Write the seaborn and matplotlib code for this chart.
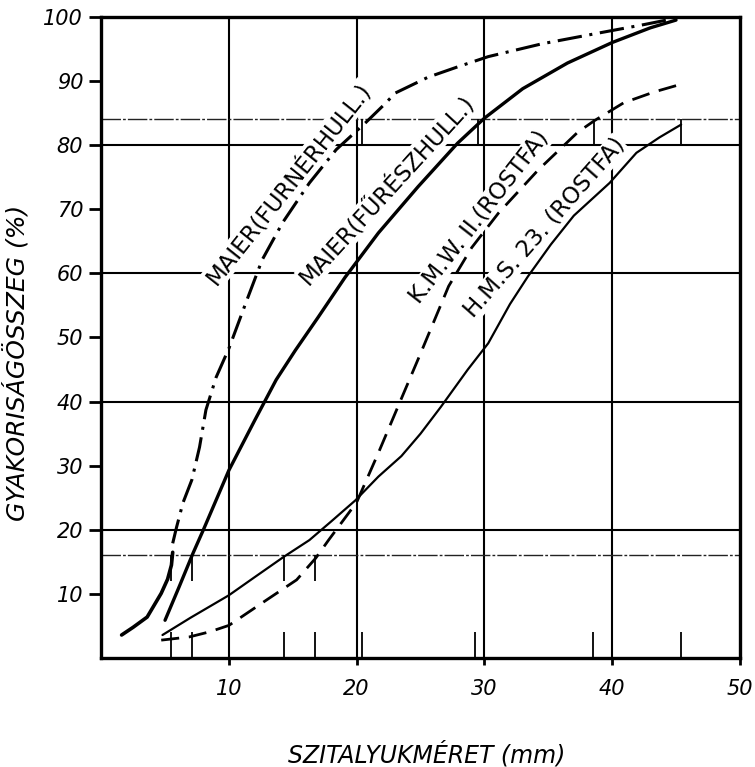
import matplotlib
matplotlib.use("Agg")
import matplotlib.pyplot as plt
import seaborn as sns
import pandas as pd

sns.set_theme(style="white")
plt.rcParams['font.family'] = ['DejaVu Sans']
plt.rcParams['text.color'] = 'black'
plt.rcParams['axes.labelcolor'] = 'black'
plt.rcParams['xtick.color'] = 'black'
plt.rcParams['ytick.color'] = 'black'

# --- data ---
furner_solid_x = [1.6, 2.5, 3.6, 4.7, 5.2, 5.5, 5.6]
furner_solid_y = [3.6, 4.8, 6.4, 10.1, 12.3, 14.5, 16.5]
furner_x = [5.6, 5.9, 6.4, 7.1, 7.7, 8.2, 9.0, 10.0, 11.4, 12.6, 14.2, 16.3, 18.4, 20.7,
            22.3, 23.0, 25.6, 27.9, 30.3, 34.5, 39.0, 42.5, 44.5]
furner_y = [17.9, 20.4, 24.2, 27.8, 32.9, 38.7, 43.8, 48.3, 55.8, 62.1, 67.9, 74.1, 79.3, 83.5,
            86.6, 88.1, 90.6, 92.2, 93.8, 95.8, 97.5, 98.8, 99.6]

fureszx = [5.0, 6.1, 7.2, 8.0, 10.0, 12.0, 13.7, 15.2, 17.0, 19.1, 21.7, 24.8, 27.9, 30.0,
           33.0, 36.5, 40.0, 43.0, 45.0]
fureszy = [5.9, 11.1, 16.4, 20.0, 29.3, 37.0, 43.4, 48.0, 53.2, 59.4, 66.3, 73.5, 80.3, 84.2,
           88.8, 92.8, 96.0, 98.3, 99.5]

kmw_x = [4.7, 6.9, 8.5, 10.0, 12.9, 15.3, 16.8, 17.8, 20.0, 21.7, 23.4, 25.0, 27.2, 29.0,
         31.1, 34.2, 37.3, 38.6, 40.9, 43.3, 45.4]
kmw_y = [2.8, 3.3, 4.1, 5.1, 9.0, 12.2, 15.6, 18.4, 24.3, 32.0, 40.0, 47.5, 58.0, 64.0,
         69.4, 76.1, 82.0, 83.8, 86.6, 88.3, 89.5]

hms_x = [4.8, 7.0, 10.0, 12.0, 14.3, 16.3, 18.0, 19.9, 21.7, 23.5, 25.0, 26.6, 28.7, 30.3,
         32.0, 33.4, 35.2, 37.0, 39.8, 41.9, 43.7, 45.4]
hms_y = [3.6, 6.3, 9.8, 12.6, 15.8, 18.4, 21.3, 24.6, 28.3, 31.5, 35.0, 39.2, 45.0, 49.1,
         55.2, 59.5, 64.5, 69.0, 74.1, 78.8, 81.2, 83.2]

cross16 = [5.5, 7.1, 14.3, 16.7]
cross84 = [20.4, 29.5, 38.6, 45.4]
bottom_marks = [5.5, 7.1, 14.3, 16.7, 20.4, 29.3, 38.5, 45.4]

labels = ["MAIER(FURNÉRHULL.)", "MAIER(FŰRÉSZHULL.)", "K.M.W. II.(ROSTFA)", "H.M.S. 23. (ROSTFA)"]
label_x = [14.7, 22.4, 29.6, 34.7]
label_y = [74.0, 73.0, 68.8, 67.1]
label_rot = [51.5, 47.5, 52.0, 48.6]

xticks = [10, 20, 30, 40, 50]
yticks = [10, 20, 30, 40, 50, 60, 70, 80, 90, 100]

fig = plt.figure(figsize=(7.55, 7.67), dpi=100)
ax = fig.add_axes([0.134, 0.142, 0.846, 0.836])
ax.set_xlim(0, 50)
ax.set_ylim(0, 100)

# grid
for gx in [10, 20, 30, 40]:
    ax.axvline(gx, color="black", lw=1.5, zorder=1)
for gy in [20, 40, 60, 80]:
    ax.axhline(gy, color="black", lw=1.5, zorder=1)
for gy in [16, 84]:
    ax.axhline(gy, color="#222222", lw=1.0, ls=(0, (14, 1.5, 2, 1.5)), zorder=1)

# marks
ax.vlines(cross16, 12, 16, color="black", lw=1.3, zorder=1)
ax.vlines(cross84, 80, 84, color="black", lw=1.3, zorder=1)
ax.vlines(bottom_marks, 0, 4, color="black", lw=1.3, zorder=1)

def draw(x, y, **kw):
    df = pd.DataFrame({"x": x, "y": y})
    sns.lineplot(data=df, x="x", y="y", sort=False, estimator=None, ax=ax,
                 color="black", zorder=3, **kw)

draw(furner_solid_x, furner_solid_y, lw=2.6)
draw(furner_x, furner_y, lw=2.2)
ax.lines[-1].set_dashes((8, 2.5, 1, 2.5))
draw(fureszx, fureszy, lw=2.4)
draw(kmw_x, kmw_y, lw=2.0)
ax.lines[-1].set_dashes((6.5, 3.5))
draw(hms_x, hms_y, lw=1.6)

for t, x, y, r in zip(labels, label_x, label_y, label_rot):
    ax.text(x, y, t, rotation=r, rotation_mode="anchor", ha="center", va="center",
            fontsize=16.5, color="black", zorder=2,
            bbox=dict(facecolor="white", edgecolor="none", pad=0.5))

ax.set_xticks(xticks)
ax.set_yticks(yticks)
ax.set_xticklabels([str(v) for v in xticks], fontsize=15, style="italic")
ax.set_yticklabels([str(v) for v in yticks], fontsize=15, style="italic")
ax.tick_params(axis="y", direction="out", length=9, width=2, color="black", left=True, pad=4)
ax.tick_params(axis="x", direction="out", length=5, width=2, color="black", bottom=True, pad=10)
for s in ax.spines.values():
    s.set_visible(True)
    s.set_color("black")
    s.set_linewidth(2.4)

ax.set_xlabel("SZITALYUKMÉRET (mm)", fontsize=17, style="italic", color="black")
ax.set_ylabel("GYAKORISÁGÖSSZEG (%)", fontsize=18, style="italic", color="black")
ax.xaxis.set_label_coords(0.51, -0.129)
ax.yaxis.set_label_coords(-0.112, 0.46)

fig.savefig("out.png", dpi=100)
